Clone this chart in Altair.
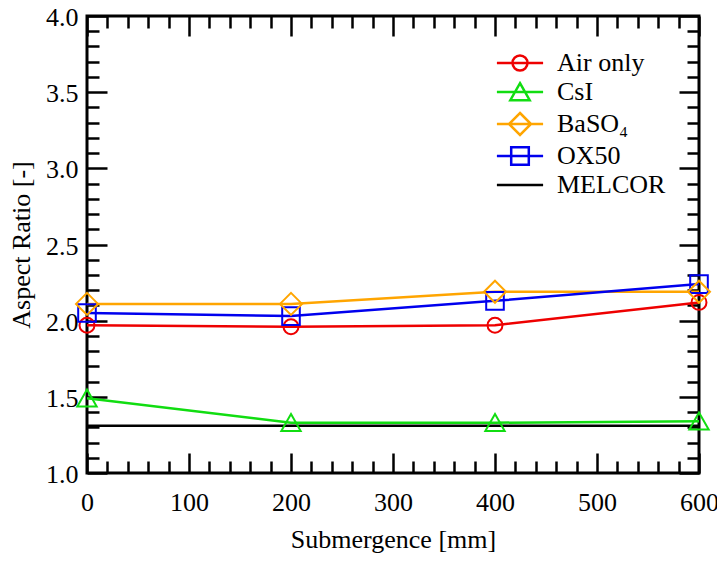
import altair as alt
import pandas as pd

# ---- data ----
submergence = [0, 200, 400, 600]
air_only = [1.97, 1.96, 1.97, 2.12]
csi = [1.49, 1.33, 1.33, 1.34]
baso4 = [2.11, 2.11, 2.19, 2.19]
ox50 = [2.05, 2.03, 2.13, 2.24]
melcor_x = [0, 600]
melcor = [1.31, 1.31]

series_names = ["Air only", "CsI", "BaSO\u2084", "OX50", "MELCOR"]
series_colors = ["#ee0000", "#11dd11", "#ffa500", "#0000ee", "#000000"]

x_major = [0, 100, 200, 300, 400, 500, 600]
x_minor = [v for v in range(0, 601, 20) if v % 100 != 0]
y_major = [1.0, 1.5, 2.0, 2.5, 3.0, 3.5, 4.0]
y_minor = [round(1.0 + 0.1 * i, 1) for i in range(31) if i % 5 != 0]

# marker shapes (unit square -1..1, scaled by sqrt(size)/2)
circ = "M-0.68,0A0.68,0.68 0 1,0 0.68,0A0.68,0.68 0 1,0 -0.68,0Z"
tri = "M0,-0.8L0.88,0.75L-0.88,0.75Z"
dia = "M0,-1L1,0L0,1L-1,0Z"
sq = "M-0.8,-0.8H0.8V0.8H-0.8Z"
marker_paths = [circ, tri, dia, sq]
seg = "M-2.1,0H2.1"
legend_paths = [seg + p for p in marker_paths] + [seg]

rows = []
for name, vals in zip(series_names[:4], [air_only, csi, baso4, ox50]):
    for xv, yv in zip(submergence, vals):
        rows.append({"series": name, "x": xv, "y": yv})
for xv, yv in zip(melcor_x, melcor):
    rows.append({"series": "MELCOR", "x": xv, "y": yv})
df = pd.DataFrame(rows)

FONT = "Liberation Serif"
FS = 26
xs = alt.Scale(domain=[0, 600], nice=False, zero=False)
ys = alt.Scale(domain=[1, 4], nice=False, zero=False)


def ax(orient, values, size, labels=False, **kw):
    return alt.Axis(orient=orient, values=values, tickSize=size, offset=-size,
                    labels=labels, domain=False, grid=False, labelFlush=False,
                    labelFont=FONT, labelFontSize=FS, labelColor="black",
                    titleFont=FONT, titleFontSize=FS, titleFontWeight="normal",
                    titleColor="black", tickColor="black", tickWidth=2.5,
                    labelOverlap=False, **kw)


def empty_axes(xa, ya):
    return alt.Chart(df).transform_filter("datum.x < -1").mark_point().encode(
        x=alt.X("x:Q", scale=xs, axis=xa),
        y=alt.Y("y:Q", scale=ys, axis=ya),
    )


axis_layers = [
    empty_axes(ax("bottom", x_major, 20, labels=True, format="d", labelPadding=16,
                  title="Submergence [mm]", titlePadding=11),
               ax("left", y_major, 20, labels=True, format=".1f", labelPadding=9,
                  labelOffset=1.5, title="Aspect Ratio [-]", titlePadding=11)),
    empty_axes(ax("bottom", x_minor, 12, title=None), ax("left", y_minor, 12, title=None)),
    empty_axes(ax("top", x_major, 20, title=None), ax("right", y_major, 20, title=None)),
    empty_axes(ax("top", x_minor, 12, title=None), ax("right", y_minor, 12, title=None)),
]

line_layers = []
for name, col in zip(series_names, series_colors):
    line_layers.append(
        alt.Chart(df).transform_filter(alt.datum.series == name).mark_line(
            strokeWidth=2.5, color=col
        ).encode(
            x=alt.X("x:Q", scale=xs, axis=None),
            y=alt.Y("y:Q", scale=ys, axis=None),
        )
    )

point_layers = []
for idx in [0, 1, 3, 2]:
    point_layers.append(
        alt.Chart(df).transform_filter(alt.datum.series == series_names[idx]).mark_point(
            filled=False, size=484, strokeWidth=2, opacity=1,
            shape=marker_paths[idx], color=series_colors[idx]
        ).encode(
            x=alt.X("x:Q", scale=xs, axis=None),
            y=alt.Y("y:Q", scale=ys, axis=None),
        )
    )

leg = alt.Legend(orient="none", legendX=420, legendY=34, title=None, padding=0,
                 labelFont=FONT, labelFontSize=FS, labelColor="black", labelOffset=24,
                 rowPadding=2, symbolSize=484, symbolStrokeWidth=2.5,
                 symbolFillColor="transparent", symbolOpacity=1)
legend_layer = alt.Chart(df).transform_filter("datum.x < -1").mark_point(
    filled=False, size=484, strokeWidth=2.5, opacity=1
).encode(
    stroke=alt.Stroke("series:N", scale=alt.Scale(domain=series_names, range=series_colors), legend=leg),
    shape=alt.Shape("series:N", scale=alt.Scale(domain=series_names, range=legend_paths), legend=leg),
)

chart = alt.layer(*axis_layers, *line_layers, *point_layers, legend_layer).resolve_axis(
    x="independent", y="independent"
).properties(
    width=612, height=457,
    autosize=alt.AutoSizeParams(type="none"),
    padding={"left": 79, "top": 8, "right": 18, "bottom": 82},
    background="white",
).configure_view(stroke="black", strokeWidth=3)

chart.save("out.html", embed_options={"renderer": "svg", "actions": False})
